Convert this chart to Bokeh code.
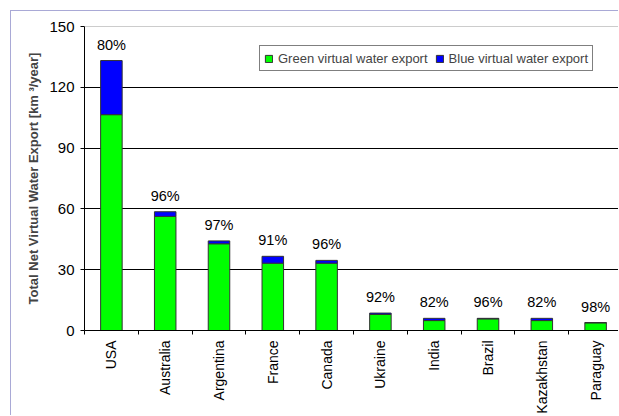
import math
from bokeh.plotting import figure
from bokeh.models import (ColumnDataSource, Range1d, FixedTicker, Span, Legend, LegendItem)
from bokeh.core.properties import value
from bokeh.embed import file_html
from bokeh.resources import INLINE

countries = ["USA", "Australia", "Argentina", "France", "Canada",
             "Ukraine", "India", "Brazil", "Kazakhstan", "Paraguay"]
green_export = [106.5, 56.3, 42.8, 33.2, 33.2, 7.9, 4.9, 5.75, 4.9, 3.8]
blue_export = [26.7, 2.3, 1.4, 3.4, 1.4, 0.7, 1.1, 0.25, 1.1, 0.1]
green_share = ["80%", "96%", "97%", "91%", "96%", "92%", "82%", "96%", "82%", "98%"]
y_ticks = [0, 30, 60, 90, 120, 150]

FONT = "Liberation Sans"

xs = list(range(len(countries)))
totals = [g + b for g, b in zip(green_export, blue_export)]
src = ColumnDataSource(dict(x=xs, green=green_export, blue=blue_export,
                            total=totals, share=green_share))

p = figure(width=608, height=405, output_backend="svg", toolbar_location=None,
           x_range=Range1d(-0.5, 9.444), y_range=Range1d(0, 150),
           min_border_left=73, min_border_top=15, min_border_right=0,
           min_border_bottom=10)
p.styles = {"margin-left": "10px", "margin-top": "10px",
            "border-top": "1px solid #a9a9d6", "border-left": "1px solid #a9a9d6"}
p.outline_line_color = None
p.background_fill_color = "white"
p.border_fill_color = "white"

r = p.vbar_stack(["green", "blue"], x="x", width=0.4, source=src,
                 fill_color=["#00FF00", "#0000FF"], line_color="#333333",
                 line_width=1)

p.text(x="x", y="total", text="share", source=src, text_align="center",
       text_baseline="bottom", y_offset=-8, text_font=value(FONT),
       text_font_size="14.5px", text_color="black")

# grid
p.xgrid.visible = False
p.ygrid.ticker = FixedTicker(ticks=[30, 60, 90, 120])
p.ygrid.grid_line_color = "black"
p.ygrid.grid_line_width = 1
p.add_layout(Span(location=150, dimension="width", line_color="#999999", line_width=1))

# y axis
ya = p.yaxis[0]
ya.ticker = FixedTicker(ticks=y_ticks)
ya.axis_label = "Total Net Virtual Water Export [km \u00b3/year]"
ya.axis_label_text_font = FONT
ya.axis_label_text_font_style = "bold"
ya.axis_label_text_font_size = "13px"
ya.axis_label_standoff = 5
ya.major_label_text_font = FONT
ya.major_label_text_font_size = "15px"
ya.major_label_text_color = "black"
ya.major_label_standoff = 6
ya.major_tick_out = 4
ya.major_tick_in = 0
ya.minor_tick_out = 0
ya.minor_tick_in = 0
ya.axis_line_color = "black"
ya.major_tick_line_color = "black"

# x axis
xa = p.xaxis[0]
xa.ticker = FixedTicker(ticks=xs, minor_ticks=[i - 0.5 for i in range(len(countries) + 1)])
xa.major_label_overrides = {i: c for i, c in zip(xs, countries)}
xa.major_label_orientation = math.pi / 2
xa.major_label_text_font = FONT
xa.major_label_text_font_size = "14px"
xa.major_label_text_color = "black"
xa.major_label_standoff = 6
xa.major_tick_out = 0
xa.major_tick_in = 0
xa.minor_tick_out = 4
xa.minor_tick_in = 0
xa.minor_tick_line_color = "black"
xa.axis_line_color = "black"

legend = Legend(items=[LegendItem(label="Green virtual water export", renderers=[r[0]]),
                       LegendItem(label="Blue virtual water export", renderers=[r[1]])],
                orientation="horizontal", location=(175, 259))
legend.glyph_width = 9
legend.glyph_height = 9
legend.label_height = 16
legend.label_standoff = 5
legend.spacing = 7
legend.padding = 4
legend.margin = 0
legend.label_text_font = FONT
legend.label_text_font_size = "13px"
legend.border_line_color = "black"
legend.border_line_width = 1
legend.background_fill_color = "white"
legend.background_fill_alpha = 1
p.add_layout(legend)

open("out.html", "w").write(file_html(p, INLINE))
